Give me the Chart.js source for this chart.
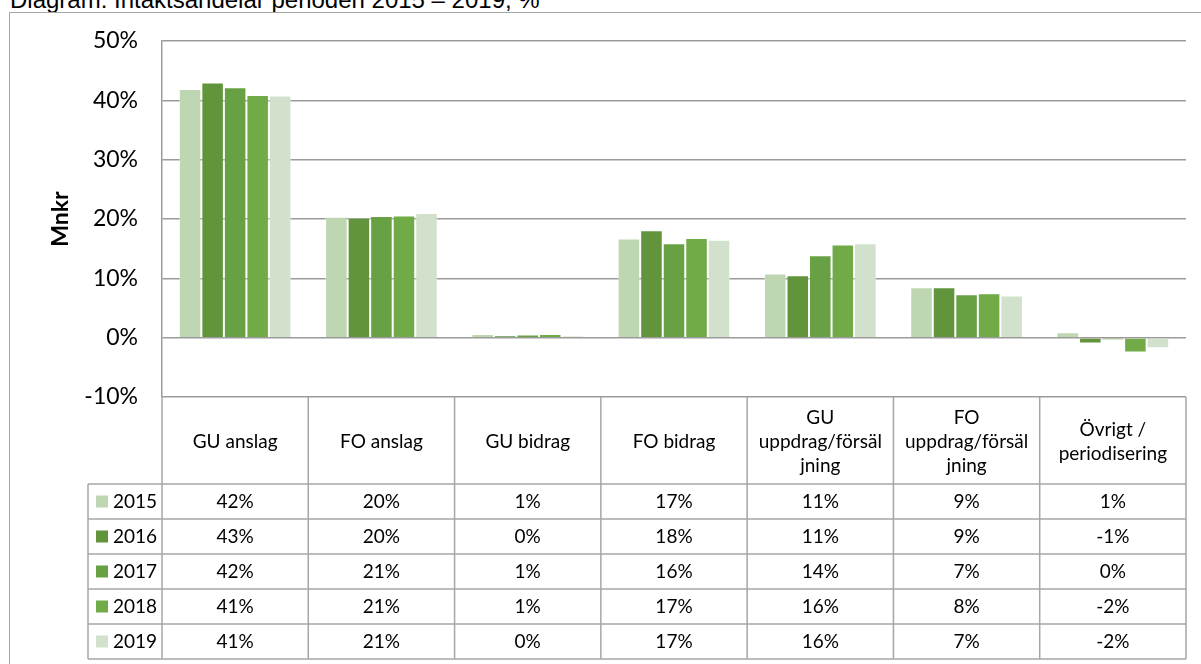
<!DOCTYPE html>
<html>
<head>
<meta charset="utf-8">
<script src="https://cdn.jsdelivr.net/npm/chart.js@4/dist/chart.umd.min.js"></script>
<style>
html,body{margin:0;padding:0;background:#fff;overflow:hidden}
#wrap{position:relative;width:1201px;height:664px;overflow:hidden}
#title{position:absolute;left:10px;top:-12px;font-family:"Liberation Sans",Arial,sans-serif;font-size:24px;line-height:24px;white-space:nowrap;color:#000}
#frame{position:absolute;left:9px;top:12px;width:1400px;height:900px;border-left:1.5px solid #a6a6a6;border-top:1.5px solid #a6a6a6;box-sizing:border-box}
canvas{position:absolute;left:0;top:0}
</style>
</head>
<body>
<div id="wrap">
<div id="title">Diagram: Intäktsandelar perioden 2015 – 2019, %</div>
<div id="frame"></div>
<canvas id="c" width="1201" height="664"></canvas>
</div>
<script>
// ---- data ----
const categories = ['GU anslag', 'FO anslag', 'GU bidrag', 'FO bidrag',
  ['GU', 'uppdrag/försäl', 'jning'], ['FO', 'uppdrag/försäl', 'jning'], ['Övrigt /', 'periodisering']];
const years = ['2015', '2016', '2017', '2018', '2019'];
const values2015 = [41.9, 20.4, 0.6, 16.7, 10.8, 8.5, 0.9];
const values2016 = [43.0, 20.2, 0.35, 18.1, 10.5, 8.5, -1.0];
const values2017 = [42.2, 20.5, 0.55, 15.9, 13.9, 7.3, -0.4];
const values2018 = [40.9, 20.6, 0.6, 16.8, 15.7, 7.5, -2.5];
const values2019 = [40.8, 21.0, 0.3, 16.5, 15.9, 7.1, -1.8];
const table2015 = ['42%', '20%', '1%', '17%', '11%', '9%', '1%'];
const table2016 = ['43%', '20%', '0%', '18%', '11%', '9%', '-1%'];
const table2017 = ['42%', '21%', '1%', '16%', '14%', '7%', '0%'];
const table2018 = ['41%', '21%', '1%', '17%', '16%', '8%', '-2%'];
const table2019 = ['41%', '21%', '0%', '17%', '16%', '7%', '-2%'];
const yTicks = [-10, 0, 10, 20, 30, 40, 50];
const colors = ['#bfd6b2', '#61943b', '#68a144', '#70ab47', '#d2e1cb'];

const seriesValues = [values2015, values2016, values2017, values2018, values2019];
const tableRows = [table2015, table2016, table2017, table2018, table2019];

const GRID = '#9b9b9b';
const TABLE_LINE = '#a6a6a6';
const FONT = 'Lato, "Open Sans", sans-serif';

const tablePlugin = {
  id: 'dataTable',
  afterDraw(chart) {
    const ctx = chart.ctx;
    const xs = chart.scales.x;
    const ca = chart.chartArea;
    const n = categories.length;
    const colW = xs.width / n;
    const top = ca.bottom;
    const headerH = 87;
    const rowH = 35;
    const legendLeft = 88;
    const bottom = top + headerH + rowH * years.length;
    ctx.save();
    ctx.strokeStyle = TABLE_LINE;
    ctx.lineWidth = 1.5;
    for (let i = 0; i <= n; i++) {
      const xp = i < n ? xs.getPixelForValue(i) - colW / 2 : xs.getPixelForValue(n - 1) + colW / 2;
      ctx.beginPath(); ctx.moveTo(xp, top); ctx.lineTo(xp, bottom); ctx.stroke();
    }
    ctx.beginPath(); ctx.moveTo(legendLeft, top + headerH); ctx.lineTo(legendLeft, bottom); ctx.stroke();
    for (let r = 0; r <= years.length; r++) {
      const yp = top + headerH + r * rowH;
      ctx.beginPath(); ctx.moveTo(legendLeft, yp); ctx.lineTo(ca.right, yp); ctx.stroke();
    }
    ctx.fillStyle = '#000';
    ctx.font = '19px ' + FONT;
    ctx.textAlign = 'center';
    ctx.textBaseline = 'middle';
    const lh = 24;
    categories.forEach((lab, i) => {
      const lines = Array.isArray(lab) ? lab : [lab];
      const cx = xs.getPixelForValue(i);
      const cy = top + headerH / 2 + 1;
      lines.forEach((t, k) => {
        ctx.fillText(t, cx, cy + (k - (lines.length - 1) / 2) * lh);
      });
    });
    tableRows.forEach((row, r) => {
      const cy = top + headerH + r * rowH + rowH / 2;
      ctx.textAlign = 'center';
      row.forEach((t, i) => ctx.fillText(t, xs.getPixelForValue(i), cy));
      ctx.fillStyle = colors[r];
      ctx.fillRect(96, cy - 6, 12, 12);
      ctx.fillStyle = '#000';
      ctx.textAlign = 'left';
      ctx.fillText(years[r], 113, cy);
    });
    ctx.restore();
  }
};

new Chart(document.getElementById('c'), {
  type: 'bar',
  data: {
    labels: categories,
    datasets: years.map((y, k) => ({
      label: y,
      data: seriesValues[k],
      backgroundColor: colors[k],
      borderColor: 'rgba(255,255,255,0.35)',
      borderWidth: 1,
      categoryPercentage: 0.77,
      barPercentage: 1.0
    }))
  },
  options: {
    responsive: false,
    animation: false,
    devicePixelRatio: 1,
    layout: { padding: { left: 43, top: 41, right: 15, bottom: 267 } },
    plugins: { legend: { display: false }, tooltip: { enabled: false } },
    scales: {
      x: { display: false },
      y: {
        min: -10, max: 50,
        afterBuildTicks: s => { s.ticks = yTicks.map(v => ({ value: v })); },
        afterFit: s => { s.width = 119; },
        ticks: {
          callback: v => v + '%',
          color: '#000',
          font: { family: FONT, size: 23 },
          padding: 24
        },
        grid: { color: GRID, lineWidth: 1.5, drawTicks: false },
        border: { display: true, color: GRID, width: 1.5 },
        title: {
          display: true, text: 'Mnkr', color: '#000',
          font: { family: FONT, size: 23, weight: 'bold' },
          padding: { top: 4, bottom: 4 }
        }
      }
    }
  },
  plugins: [tablePlugin]
});
</script>
</body>
</html>
